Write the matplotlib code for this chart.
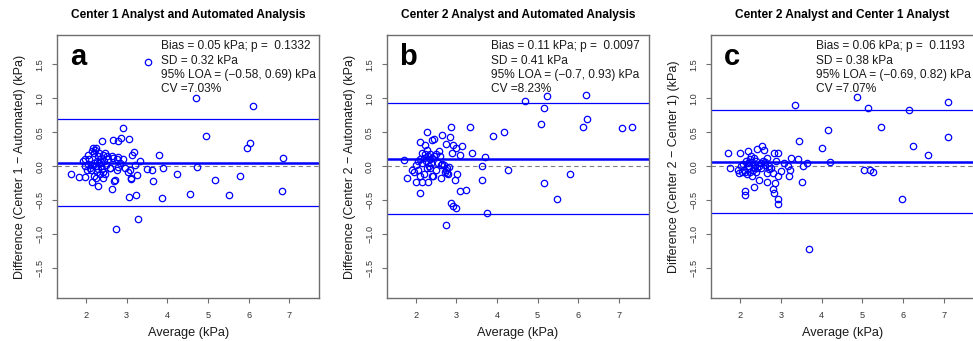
import numpy as np
import matplotlib
matplotlib.use('Agg')
import matplotlib.pyplot as plt

plt.rcParams['font.family'] = ['Liberation Sans', 'DejaVu Sans']

# ---- data (average kPa, difference kPa) ----
a_avg = [3.53, 4.71, 6.10, 4.95, 5.97, 6.04, 6.84, 2.90, 2.39, 2.66, 2.79, 2.86, 3.05,
         3.79, 3.17, 3.13, 3.33, 4.73, 1.64, 1.82, 1.99, 2.15, 2.30, 2.60, 2.64, 2.70,
         2.75, 2.77, 3.04, 3.09, 3.12, 3.06, 3.23, 3.25, 3.27, 3.21, 3.51, 3.63, 3.65,
         3.86, 3.90, 4.23, 4.57, 5.18, 5.51, 5.79, 6.83,
         2.18, 2.22, 2.14, 2.20, 2.25, 2.06, 1.98, 1.93, 2.47, 2.43, 2.30, 2.63, 2.66,
         2.76, 2.92, 2.33, 2.52, 2.80, 2.05, 2.10, 2.15, 2.20, 2.25, 2.28, 2.32, 2.35,
         2.38, 2.40, 2.45, 2.50, 2.55, 2.28, 2.35, 2.42, 2.12, 2.20, 2.26, 2.43, 2.59,
         2.80, 2.85, 2.71, 3.10, 2.95, 1.97, 2.02, 2.30, 2.48, 2.36, 2.08]
a_diff = [1.53, 1.00, 0.88, 0.45, 0.27, 0.34, 0.12, 0.56, 0.37, 0.39, 0.37, 0.42, 0.40,
          0.17, 0.21, 0.17, 0.07, -0.01, -0.12, -0.16, -0.16, -0.23, -0.29, -0.03, -0.33, -0.22,
          -0.93, -0.06, -0.08, -0.05, -0.19, -0.46, -0.42, -0.13, -0.78, 0.01, -0.04, -0.06, -0.22,
          -0.47, -0.03, -0.12, -0.41, -0.21, -0.42, -0.14, -0.37,
          0.26, 0.24, 0.22, 0.19, 0.27, 0.16, 0.11, 0.07, 0.20, 0.16, 0.15, 0.15, 0.12,
          0.11, 0.10, 0.20, 0.15, 0.14, 0.03, -0.03, 0.02, 0.05, 0.00, 0.08, 0.04, 0.10,
          0.06, -0.04, 0.08, 0.02, 0.10, -0.08, -0.12, -0.09, -0.05, -0.15, -0.18, -0.18, -0.02,
          -0.01, 0.05, -0.21, -0.18, -0.02, 0.00, -0.06, -0.04, -0.12, 0.00, 0.10]

b_avg = [4.69, 5.24, 6.18, 5.15, 5.07, 6.22, 6.11, 7.07, 7.31, 4.16, 3.91, 3.33, 2.88,
         2.27, 2.45, 2.41, 2.66, 2.85, 2.74, 2.91, 2.99, 3.15, 2.10, 2.23, 3.38, 3.10,
         2.89, 3.71, 3.64, 3.64, 4.26, 3.75, 2.74, 2.88, 2.91, 3.00, 3.10, 3.25, 3.02,
         2.96, 2.79, 2.63, 5.15, 5.48, 5.79, 2.10, 2.30, 2.02, 1.79, 1.72, 1.92, 1.96,
         2.29, 2.58, 2.16, 2.16, 2.21, 2.41, 2.43, 2.05, 2.10, 2.15, 2.20, 2.25, 2.30,
         2.35, 2.38, 2.32, 2.28, 2.40, 2.45, 2.50, 2.55, 2.60, 2.62, 2.65, 2.70, 2.75,
         2.78, 2.82, 2.35, 2.50, 2.00, 2.05, 2.12, 2.22, 2.36, 2.72, 2.77]
b_diff = [0.96, 1.03, 1.05, 0.85, 0.62, 0.70, 0.57, 0.56, 0.57, 0.51, 0.45, 0.58, 0.57,
          0.50, 0.40, 0.39, 0.46, 0.43, 0.33, 0.31, 0.27, 0.29, 0.35, 0.31, 0.19, 0.17,
          0.20, 0.14, 0.00, -0.20, -0.05, -0.69, -0.86, -0.54, -0.58, -0.62, -0.37, -0.35, -0.12,
          -0.21, -0.11, -0.18, -0.25, -0.49, -0.12, -0.40, -0.24, -0.23, -0.18, 0.09, -0.05, -0.09,
          0.24, 0.22, 0.20, -0.23, -0.12, -0.15, -0.14, 0.08, 0.10, 0.05, 0.12, 0.08, 0.15,
          0.10, 0.04, 0.00, -0.02, 0.12, 0.15, 0.18, 0.05, 0.15, 0.02, 0.03, 0.02, -0.05,
          -0.02, -0.01, -0.02, -0.05, 0.02, -0.05, -0.15, 0.18, 0.18, -0.08, -0.10]

c_avg = [4.88, 3.34, 5.15, 6.15, 7.11, 7.11, 5.46, 4.16, 6.25, 6.61, 4.01, 3.45, 4.20,
         5.05, 5.19, 5.27, 5.97, 3.68, 3.52, 3.63, 3.55, 3.43, 3.25, 3.20, 3.23, 3.18,
         3.07, 2.93, 3.00, 2.93, 2.93, 2.82, 2.81, 2.86, 2.67, 2.47, 2.34, 2.11, 2.13,
         1.69, 1.74, 2.00, 2.20, 2.41, 2.53, 2.59, 2.83, 2.92, 2.67, 2.87,
         1.95, 1.97, 2.03, 2.05, 2.08, 2.10, 2.15, 2.17, 2.20, 2.22, 2.25, 2.27, 2.30,
         2.32, 2.34, 2.36, 2.38, 2.40, 2.42, 2.45, 2.50, 2.52, 2.55, 2.60, 2.62, 2.65,
         2.70, 2.72, 2.76, 2.80, 2.28, 2.24, 2.35, 2.18, 2.12]
c_diff = [1.02, 0.90, 0.85, 0.83, 0.94, 0.43, 0.58, 0.53, 0.29, 0.17, 0.27, 0.37, 0.06,
          -0.05, -0.05, -0.08, -0.48, -1.22, -0.23, 0.05, 0.00, 0.10, 0.12, -0.14, -0.05, 0.00,
          0.05, -0.14, -0.07, -0.49, -0.56, -0.39, -0.34, -0.25, -0.24, -0.21, -0.30, -0.36, -0.43,
          0.20, -0.02, 0.19, 0.22, 0.25, 0.29, 0.24, 0.20, 0.20, 0.12, 0.07,
          -0.05, -0.10, 0.00, -0.08, 0.03, -0.05, 0.08, -0.12, 0.04, -0.02, 0.10, 0.15, 0.06,
          -0.05, 0.12, 0.02, -0.08, 0.07, -0.02, 0.00, 0.05, -0.03, 0.08, 0.02, 0.06, -0.10,
          0.00, -0.04, -0.02, -0.10, -0.14, -0.08, -0.02, 0.00, -0.09]

titles = ['Center 1 Analyst and Automated Analysis',
          'Center 2 Analyst and Automated Analysis',
          'Center 2 Analyst and Center 1 Analyst']
letters = ['a', 'b', 'c']
ylabels = ['Difference (Center 1 \u2212 Automated) (kPa)',
           'Difference (Center 2 \u2212 Automated) (kPa)',
           'Difference (Center 2 \u2212 Center 1) (kPa)']
bias = [0.05, 0.11, 0.06]
loa_low = [-0.58, -0.70, -0.69]
loa_high = [0.69, 0.93, 0.82]
stats_text = [
    ['Bias = 0.05 kPa; p =  0.1332', 'SD = 0.32 kPa',
     '95% LOA = (\u22120.58, 0.69) kPa', 'CV =7.03%'],
    ['Bias = 0.11 kPa; p =  0.0097', 'SD = 0.41 kPa',
     '95% LOA = (\u22120.7, 0.93) kPa', 'CV =8.23%'],
    ['Bias = 0.06 kPa; p =  0.1193', 'SD = 0.38 kPa',
     '95% LOA = (\u22120.69, 0.82) kPa', 'CV =7.07%'],
]
yticks = [-1.5, -1.0, -0.5, 0.0, 0.5, 1.0, 1.5]
xticks = [2, 3, 4, 5, 6, 7]

series = [(a_avg, a_diff), (b_avg, b_diff), (c_avg, c_diff)]

# ---- figure ----
W, H = 973, 341
fig = plt.figure(figsize=(W / 100, H / 100), dpi=100)

ax_left_px = [57, 386.7, 711.3]
ax_w_px = 262.5
ax_top_px, ax_bot_px = 35, 298
ax_h_px = ax_bot_px - ax_top_px
frame_col = '#6e6e6e'
text_col = '#1a1a1a'

for i in range(3):
    ax = fig.add_axes([ax_left_px[i] / W, (H - ax_bot_px) / H, ax_w_px / W, ax_h_px / H])
    x, d = series[i]

    # reference lines: zero, bias and limits of agreement
    ax.axhline(0, color='#808080', ls=(0, (4, 3)), lw=0.8, zorder=1)
    ax.axhline(bias[i], color='blue', lw=1.8, zorder=2)
    ax.axhline(loa_low[i], color='blue', lw=0.9, zorder=2)
    ax.axhline(loa_high[i], color='blue', lw=0.9, zorder=2)
    ax.plot(x, d, 'o', mfc='none', mec='blue', ms=4.6, mew=0.9, zorder=3)

    ax.set_xlim(1.29, 7.74)
    ax.set_ylim(-1.94, 1.93)
    ax.set_xticks(xticks)
    ax.set_xticklabels([str(t) for t in xticks])
    ax.set_yticks(yticks)
    ax.set_yticklabels([f'{t:.1f}'.replace('-', '\u2212') for t in yticks],
                       rotation=90, va='center')
    ax.tick_params(direction='out', length=3.6, width=0.8, color=frame_col,
                   labelsize=6.6, pad=5.5, labelcolor='#333333')
    for s in ax.spines.values():
        s.set_color(frame_col)
        s.set_linewidth(1.0)

    ax.set_xlabel('Average (kPa)', fontsize=9.2, color=text_col)
    ax.xaxis.label.set_va('center')
    ax.xaxis.set_label_coords(0.5, -35 / ax_h_px)
    ax.set_ylabel(ylabels[i], fontsize=9.0, color=text_col)
    ax.yaxis.label.set_va('center')
    ax.yaxis.set_label_coords(-37 / ax_w_px, 0.5)

    ax.text(0.5, 1 + 20 / ax_h_px, titles[i], transform=ax.transAxes,
            ha='center', va='center', fontsize=8.6, fontweight='bold')
    ax.text(0.08, 1 - 22 / ax_h_px, letters[i], transform=ax.transAxes,
            ha='center', va='center', fontsize=21, fontweight='bold')
    for k, line in enumerate(stats_text[i]):
        ax.text(0.397, 1 - (11 + 14.5 * k) / ax_h_px, line, transform=ax.transAxes,
                ha='left', va='center', fontsize=8.6, color=text_col)

fig.savefig('out.png', dpi=100)
